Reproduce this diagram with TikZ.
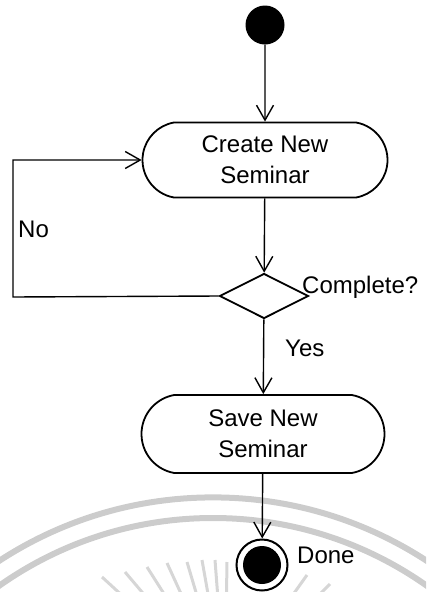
\documentclass[tikz,border=0pt]{standalone}
\usepackage{fontspec}
\setmainfont{Liberation Sans}
\usetikzlibrary{shapes.geometric,shapes.misc,arrows.meta,calc}
\begin{document}
\begin{tikzpicture}[x=1pt,y=-1pt,
  arr/.style={line width=1.4pt, -{Straight Barb[length=15pt,width=17pt]}},
  act/.style={rounded rectangle, rounded rectangle arc length=160, draw, line width=1.8pt, inner sep=0pt, align=center, font=\fontsize{24}{31}\selectfont},
  lbl/.style={inner sep=0pt, anchor=base west, font=\fontsize{24}{29}\selectfont},
  wm/.style={draw=black!20, line width=6pt},
  ray/.style={draw=black!16, line width=3pt}]
\useasboundingbox (0,0) rectangle (426,592);
\begin{scope}
  \clip (0,0) rectangle (426,592);
  \draw[wm] (213,889) circle[radius=391.6pt];
  \draw[wm] (213,889) circle[radius=371pt];
  \foreach \tx/\ty in {102/577,125/572,147/567,167/563,187/562,202/560,215/560,227/562,307/575,330/584}
    \draw[ray] (\tx,\ty) -- (225,690);
\end{scope}
\node[circle, fill=black, minimum size=39pt, inner sep=0pt] (init) at (265,25) {};
\node[act, minimum width=245pt, minimum height=75pt] (create) at (265,160) {Create New\\Seminar};
\node[diamond, draw, line width=1.8pt, minimum width=89pt, minimum height=45pt, inner sep=0pt] (dec) at (264,296) {};
\node[act, minimum width=243pt, minimum height=78pt] (save) at (263,434) {Save New\\Seminar};
\node[circle, draw, line width=2pt, fill=white, minimum size=51pt, inner sep=0pt] (final) at (262,565) {};
\node[circle, fill=black, minimum size=38pt, inner sep=0pt] (finalin) at (final.center) {};
\node[lbl] (complete) at (302,293) {Complete?};
\node[lbl] (yes) at (285,356) {Yes};
\node[lbl] (no) at (18,237) {No};
\node[lbl] (done) at (297,563) {Done};
\coordinate (lx) at (13,297);
\draw[arr] (init) -- (create);
\draw[arr] (create) -- (dec);
\draw[arr] (dec) -- (save);
\draw[arr] (save) -- (final);
\draw[arr] (dec.west) -- (lx) |- (create.west);
\end{tikzpicture}
\end{document}
